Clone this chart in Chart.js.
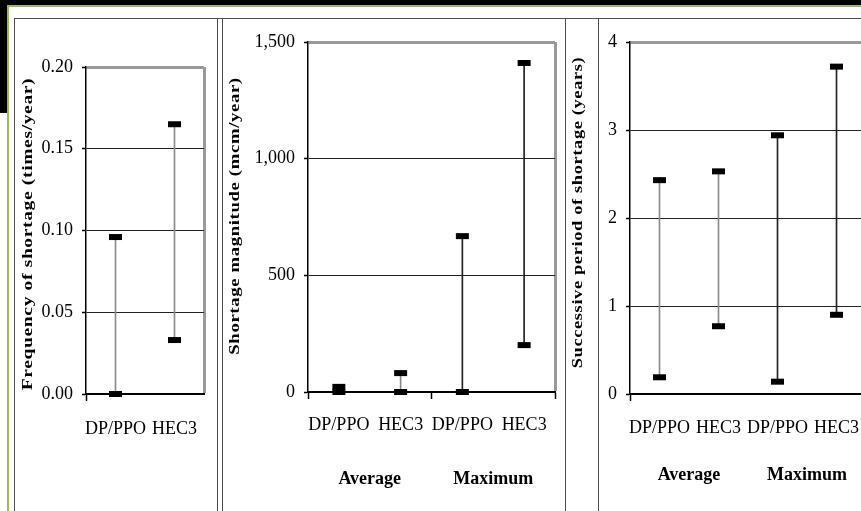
<!DOCTYPE html>
<html>
<head>
<meta charset="utf-8">
<title>Shortage comparison</title>
<script src="https://cdn.jsdelivr.net/npm/chart.js@4.4.1/dist/chart.umd.min.js"></script>
<style>
  html, body { margin: 0; padding: 0; width: 861px; height: 511px; overflow: hidden; background: #fff; }
  .blk { position: absolute; background: #000; }
  .grn { position: absolute; background: #9bbb59; }
  .rule { position: absolute; background: #4d4d4d; }
  canvas { position: absolute; left: 0; top: 0; }
</style>
</head>
<body>
<div class="blk" style="left:0;top:0;width:861px;height:5px"></div>
<div class="blk" style="left:0;top:0;width:7px;height:113px"></div>
<div class="grn" style="left:7px;top:5px;width:854px;height:2px"></div>
<div class="grn" style="left:7px;top:5px;width:2px;height:506px"></div>
<div class="rule" style="left:14px;top:18px;width:847px;height:1px"></div>
<div class="rule" style="left:14px;top:18px;width:1px;height:493px"></div>
<div class="rule" style="left:217px;top:18px;width:1px;height:493px"></div>
<div class="rule" style="left:222px;top:18px;width:1px;height:493px"></div>
<div class="rule" style="left:565px;top:18px;width:1px;height:493px"></div>
<div class="rule" style="left:598px;top:18px;width:1px;height:493px"></div>

<canvas id="freq" width="861" height="511"></canvas>
<canvas id="mag" width="861" height="511"></canvas>
<canvas id="period" width="900" height="511"></canvas>

<script>
  // data
  var freqCats = ["DP/PPO", "HEC3"];
  var freqHigh = [0.096, 0.165];
  var freqLow = [0.0, 0.033];
  var freqTicks = ["0.00", "0.05", "0.10", "0.15", "0.20"];

  var magCats = ["DP/PPO", "HEC3", "DP/PPO", "HEC3"];
  var magHigh = [22, 81, 668, 1410];
  var magLow = [0, 0, 0, 201];
  var magTicks = ["0", "500", "1,000", "1,500"];

  var periodCats = ["DP/PPO", "HEC3", "DP/PPO", "HEC3"];
  var periodHigh = [2.43, 2.53, 2.94, 3.72];
  var periodLow = [0.19, 0.77, 0.14, 0.9];
  var periodTicks = ["0", "1", "2", "3", "4"];

  var groups = ["Average", "Maximum"];

  var SERIF = "'Liberation Serif', 'Times New Roman', serif";
  var FRAME = "#999999";
  var GRID = "#222222";
  var CLEAR = "rgba(0,0,0,0)";

  // rotated y-axis caption, drawn a bit stretched like the scanned original
  var sideTitle = {
    id: "sideTitle",
    afterDraw: function (chart, args, opts) {
      var ctx = chart.ctx, a = chart.chartArea;
      ctx.save();
      ctx.translate(a.left - opts.gap, (a.top + a.bottom) / 2 + opts.shift);
      ctx.rotate(-Math.PI / 2);
      ctx.scale(opts.stretch, 1);
      ctx.font = "bold 15px " + SERIF;
      ctx.letterSpacing = "0.5px";
      ctx.fillStyle = "#000";
      ctx.textAlign = "center";
      ctx.textBaseline = "middle";
      ctx.fillText(opts.text, 0, 0);
      ctx.restore();
    }
  };

  function makeChart(id, o) {
    var last = o.ticks.length - 1;
    var scales = {
      x: {
        type: "category",
        offset: true,
        weight: 0,
        grid: {
          offset: true,
          tickLength: 7,
          tickWidth: 1.5,
          color: function (c) { return c.index === undefined && o.rightFrame ? FRAME : CLEAR; },
          lineWidth: function (c) { return c.index === undefined ? 3 : 1; },
          tickColor: function (c) {
            var i = c.index === undefined ? o.cats.length : c.index;
            return o.tickAt.indexOf(i) >= 0 ? "#000" : CLEAR;
          }
        },
        border: { color: "#000", width: 2 },
        ticks: { color: "#000", font: { family: SERIF, size: 18 }, padding: o.xPad, autoSkip: false, maxRotation: 0 },
        afterFit: function (s) { s.height = o.xHeight; }
      },
      y: {
        min: 0,
        max: o.max,
        grid: {
          tickLength: 4,
          tickWidth: 1.5,
          tickColor: "#000",
          color: function (c) { return c.index === last ? FRAME : GRID; },
          lineWidth: function (c) { return c.index === last ? 3 : 1; }
        },
        border: { color: "#000", width: 1.5 },
        ticks: {
          stepSize: o.step,
          color: "#000",
          padding: 9,
          font: { family: SERIF, size: 18 },
          callback: function (v, i) { return o.ticks[i]; }
        },
        afterFit: function (s) { s.width = 60; }
      }
    };
    if (o.groupPad) {
      scales.x2 = {
        type: "category",
        labels: groups,
        offset: true,
        position: "bottom",
        weight: 1,
        grid: { display: false, drawTicks: false },
        border: { display: false },
        ticks: { color: "#000", font: { family: SERIF, size: 18, weight: "bold" }, padding: o.groupPad, maxRotation: 0 },
        afterFit: function (s) { s.height = 60; }
      };
    }
    var marker = {
      type: "line",
      xAxisID: "x",
      showLine: false,
      pointStyle: "line",
      pointRadius: 6.5,
      pointBorderWidth: 6,
      pointBorderColor: "#000",
      pointBackgroundColor: "#000",
      clip: false,
      order: 1
    };
    return new Chart(document.getElementById(id), {
      type: "bar",
      data: {
        labels: o.cats,
        datasets: [
          Object.assign({ data: o.high }, marker),
          Object.assign({ data: o.low }, marker),
          {
            type: "bar",
            xAxisID: "x",
            data: o.low.map(function (l, i) { return [l, o.high[i]]; }),
            backgroundColor: o.stemColors,
            barThickness: 1,
            order: 2
          }
        ]
      },
      options: {
        responsive: false,
        animation: false,
        events: [],
        layout: { padding: o.pad },
        plugins: {
          legend: { display: false },
          tooltip: { enabled: false },
          sideTitle: o.title
        },
        scales: scales
      },
      plugins: [sideTitle]
    });
  }

  makeChart("freq", {
    cats: freqCats, high: freqHigh, low: freqLow, ticks: freqTicks,
    max: 0.2, step: 0.05, rightFrame: true, tickAt: [0],
    xPad: 17, xHeight: 50,
    stemColors: ["#8a8a8a", "#8a8a8a"],
    pad: { left: 26, right: 657, top: 67, bottom: 67 },
    title: { text: "Frequency of shortage (times/year)", gap: 58, shift: 3.5, stretch: 1.3 }
  });

  makeChart("mag", {
    cats: magCats, high: magHigh, low: magLow, ticks: magTicks,
    max: 1500, step: 500, rightFrame: true, tickAt: [0, 2, 4],
    xPad: 15, xHeight: 40, groupPad: 37,
    stemColors: ["#8a8a8a", "#8a8a8a", "#222", "#222"],
    pad: { left: 248, right: 306, top: 42, bottom: 19 },
    title: { text: "Shortage magnitude (mcm/year)", gap: 73, shift: -1, stretch: 1.25 }
  });

  makeChart("period", {
    cats: periodCats, high: periodHigh, low: periodLow, ticks: periodTicks,
    max: 4, step: 1, rightFrame: false, tickAt: [0],
    xPad: 16, xHeight: 40, groupPad: 31,
    stemColors: ["#8a8a8a", "#8a8a8a", "#222", "#222"],
    pad: { left: 570, right: 34, top: 42, bottom: 17 },
    title: { text: "Successive period of shortage (years)", gap: 52, shift: -5.5, stretch: 1.23 }
  });
</script>
</body>
</html>
